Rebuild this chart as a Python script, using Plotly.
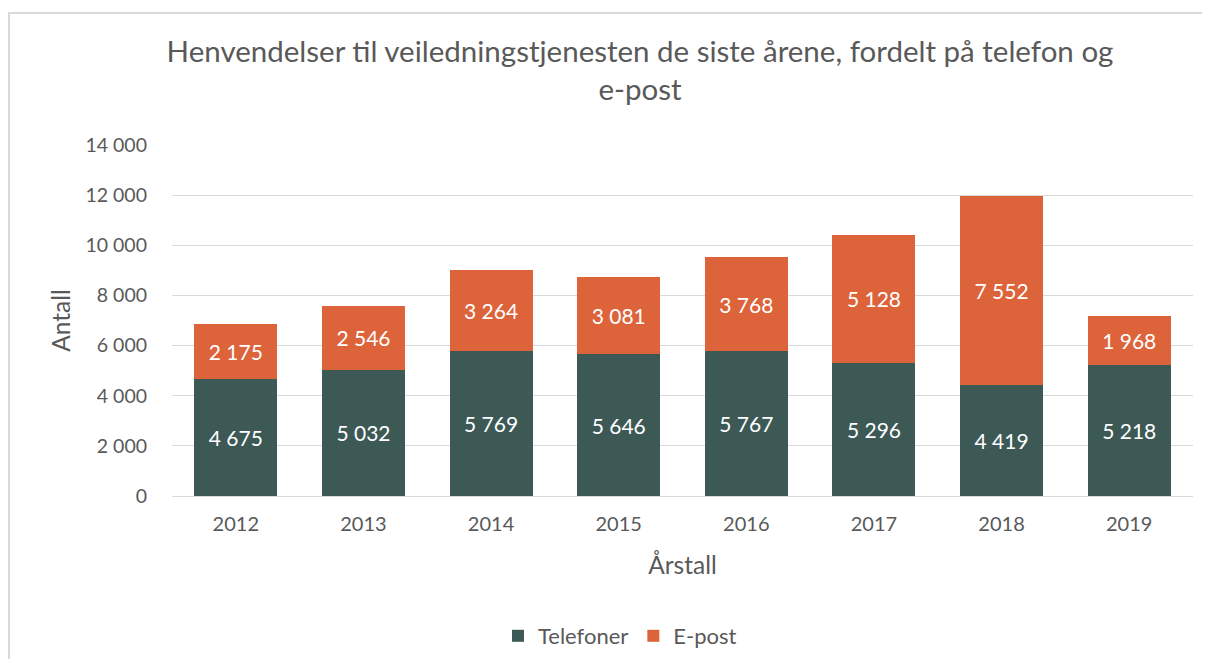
import plotly.graph_objects as go

years = ["2012", "2013", "2014", "2015", "2016", "2017", "2018", "2019"]
telefoner = [4675, 5032, 5769, 5646, 5767, 5296, 4419, 5218]
epost = [2175, 2546, 3264, 3081, 3768, 5128, 7552, 1968]
y_ticks = [0, 2000, 4000, 6000, 8000, 10000, 12000, 14000]

def fmt(v):
    return f"{v:,}".replace(",", " ")

FONT = "Lato, Carlito, Calibri, sans-serif"
GREY = "#595959"

fig = go.Figure()
fig.add_trace(go.Bar(
    x=years, y=telefoner, name="Telefoner", marker_color="#3C5956",
    text=[fmt(v) for v in telefoner], textposition="inside", insidetextanchor="middle",
    textfont=dict(color="white", size=21, family=FONT), marker_line_width=0,
))
fig.add_trace(go.Bar(
    x=years, y=epost, name="E-post", marker_color="#DD633A",
    text=[fmt(v) for v in epost], textposition="inside", insidetextanchor="middle",
    textfont=dict(color="white", size=21, family=FONT), marker_line_width=0,
))

# figure is drawn with an 8px page offset
W, H = 1194, 651
L, R, T, B = 164, 9, 137, 163
pw, ph = W - L - R, H - T - B

fig.update_layout(
    width=W, height=H, barmode="stack", bargap=0.35,
    margin=dict(l=L, r=R, t=T, b=B),
    paper_bgcolor="white", plot_bgcolor="white",
    font=dict(family=FONT, color=GREY, size=19),
    title=dict(text="Henvendelser til veiledningstjenesten de siste årene, fordelt på telefon og<br>e-post",
               x=632 / W, xanchor="center", xref="container",
               y=1 - 54 / H, yanchor="middle", yref="container",
               font=dict(size=29.5, color=GREY, family=FONT)),
    xaxis=dict(title=dict(text="Årstall", font=dict(size=24.5, color=GREY), standoff=22),
               showline=True, linecolor="#D9D9D9", linewidth=1, ticks="",
               ticklabelstandoff=10,
               tickfont=dict(size=20, color=GREY)),
    yaxis=dict(title=dict(text="Antall", font=dict(size=24.5, color=GREY), standoff=7),
               range=[0, 14000], tickvals=y_ticks, ticktext=[fmt(v) for v in y_ticks],
               gridcolor="#D9D9D9", gridwidth=1, zeroline=False, ticks="",
               ticklabelstandoff=24, tickfont=dict(size=19.5, color=GREY)),
    legend=dict(orientation="h", x=612 / W, xref="container", xanchor="center",
                y=1 - 628 / H, yref="container", yanchor="middle",
                font=dict(size=22, color=GREY), traceorder="normal",
                itemwidth=30),
    shapes=[dict(type="rect", xref="paper", yref="paper",
                 x0=(1 - L) / pw, x1=(W + 20 - L) / pw,
                 y0=(H - B - (H + 20)) / ph, y1=(H - B - 5) / ph,
                 line=dict(color="#D9D9D9", width=2), fillcolor="rgba(0,0,0,0)", layer="below")],
    showlegend=True,
)
fig.write_html("out.html")
